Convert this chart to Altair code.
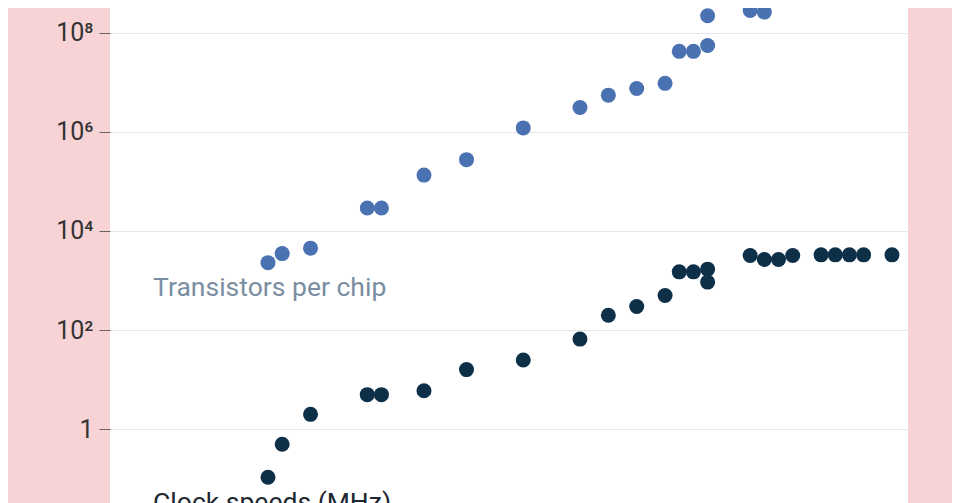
import altair as alt
import pandas as pd

# Transistors per chip (Intel processors)
t_years = [1971, 1972, 1974, 1978, 1979, 1982, 1985, 1989, 1993, 1995, 1997, 1999,
           2000, 2001, 2002, 2002, 2005, 2006, 2007, 2008, 2010, 2011]
t_values = [2300, 3500, 4500, 29000, 29000, 134000, 275000, 1200000, 3100000,
            5500000, 7500000, 9500000, 42000000, 42000000, 55000000, 220000000,
            280000000, 260000000, 582000000, 731000000, 1170000000, 2270000000]

# Clock speeds (MHz)
c_years = [1971, 1972, 1974, 1978, 1979, 1982, 1985, 1989, 1993, 1995, 1997, 1999,
           2000, 2001, 2002, 2002, 2005, 2006, 2007, 2008, 2010, 2011, 2012, 2013, 2015]
c_values = [0.108, 0.5, 2, 5, 5, 6, 16, 25, 66, 200, 300, 500,
            1500, 1500, 1700, 930, 3200, 2660, 2660, 3200, 3300, 3300, 3300, 3300, 3300]

label_text = ["Transistors per chip", "Clock speeds (MHz)"]
label_year = [1962.9, 1962.9]
label_value = [490, 0.0225]
label_series = ["t", "c"]

tick_values = [1, 100, 10000, 1000000, 100000000]

df = pd.DataFrame({
    "year": t_years + c_years,
    "value": t_values + c_values,
    "series": ["t"] * len(t_years) + ["c"] * len(c_years),
})
lab = pd.DataFrame({"year": label_year, "value": label_value,
                    "text": label_text, "series": label_series})

xscale = alt.Scale(domain=[1959.86, 2016.13], nice=False, zero=False)
yscale = alt.Scale(type="log", domain=[10 ** -1.487, 10 ** 8.498], nice=False)
color = alt.Scale(domain=["t", "c"], range=["#4a72b2", "#0d2f48"])
tcolor = alt.Scale(domain=["t", "c"], range=["#7b8ea1", "#1d2731"])

label_expr = ("datum.value == 1 ? '1' : datum.value == 100 ? '10²' : "
              "datum.value == 10000 ? '10⁴' : datum.value == 1000000 ? '10⁶' : '10⁸'")

points = alt.Chart(df).mark_circle(size=225, opacity=1, clip=True).encode(
    x=alt.X("year:Q", scale=xscale, axis=None),
    y=alt.Y("value:Q", scale=yscale,
            axis=alt.Axis(values=tick_values, labelExpr=label_expr, title=None,
                          grid=True, gridColor="#e6e6e6", gridWidth=1,
                          domain=False, tickColor="#666666", tickSize=11,
                          labelPadding=6, labelFontSize=25, labelFont="Roboto",
                          labelColor="#333333")),
    color=alt.Color("series:N", scale=color, legend=None),
)

texts = alt.Chart(lab).mark_text(align="left", baseline="alphabetic", fontSize=26.5,
                                 font="Roboto", clip=True).encode(
    x=alt.X("year:Q", scale=xscale, axis=None),
    y=alt.Y("value:Q", scale=yscale),
    text="text:N",
    color=alt.Color("series:N", scale=tcolor, legend=None),
)

chart = alt.layer(points, texts).resolve_scale(color="independent").properties(
    width=798, height=495,
    autosize=alt.AutoSizeParams(type="none"),
    padding={"left": 102, "top": 0, "right": 44, "bottom": 0},
    background="#f7d3d5",
).configure_view(fill="white", stroke=None)

chart.save("out.html", embed_options={"renderer": "svg", "actions": False})
